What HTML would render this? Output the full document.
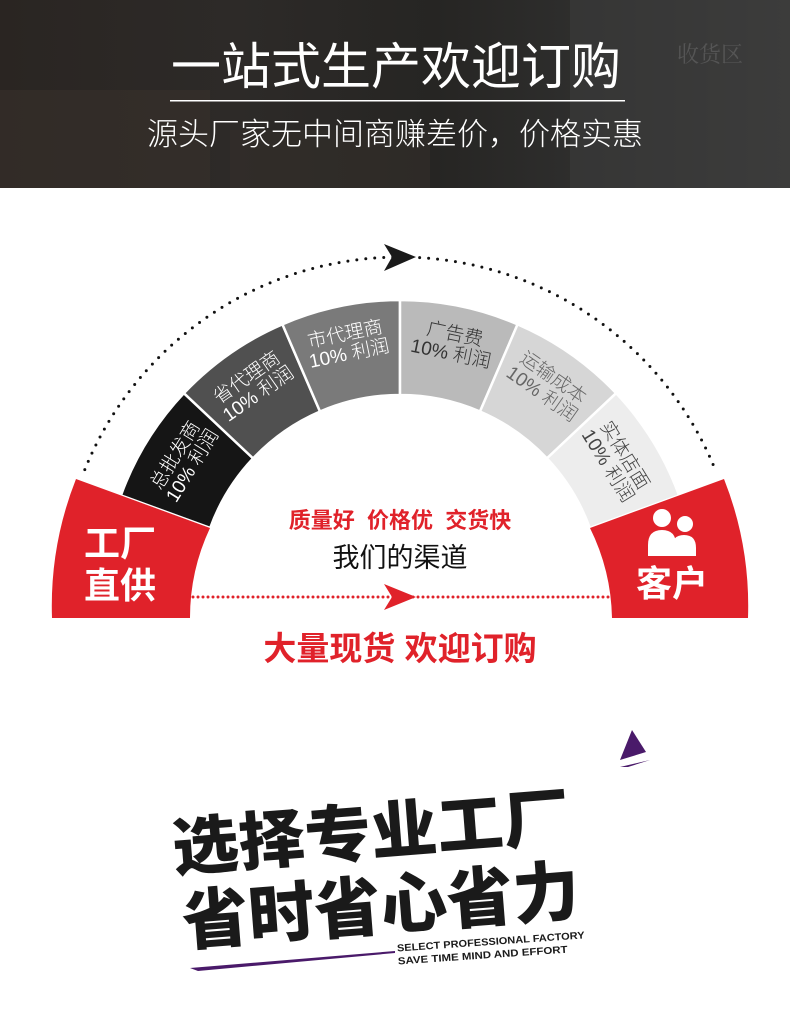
<!DOCTYPE html>
<html><head><meta charset="utf-8"><style>
html,body{margin:0;padding:0;background:#fff;}
body{width:790px;height:1016px;overflow:hidden;position:relative;font-family:"Liberation Sans","Noto Sans CJK SC",sans-serif;}
</style></head><body>
<svg width="790" height="1016" viewBox="0 0 790 1016" xmlns="http://www.w3.org/2000/svg" style="position:absolute;left:0;top:0">
<defs>
<linearGradient id="hdr" x1="0" y1="0" x2="1" y2="0">
<stop offset="0" stop-color="#2a2522"/><stop offset="0.3" stop-color="#2d2a28"/><stop offset="0.55" stop-color="#262523"/><stop offset="0.75" stop-color="#2f2f2e"/><stop offset="1" stop-color="#3a3a39"/>
</linearGradient>
</defs>
<rect x="0" y="0" width="790" height="188" fill="url(#hdr)"/>
<rect x="0" y="90" width="210" height="98" fill="#3a322c" opacity="0.5"/>
<rect x="230" y="130" width="200" height="58" fill="#332e2a" opacity="0.6"/>
<rect x="570" y="0" width="220" height="188" fill="#3e3e3d" opacity="0.5"/>
<text x="710" y="62" font-family="Noto Serif CJK SC,serif" font-size="22" fill="#555" text-anchor="middle">收货区</text>
<text x="396" y="84" font-size="50" fill="#fff" text-anchor="middle" font-family="Liberation Sans,Noto Sans CJK SC,sans-serif">一站式生产欢迎订购</text>
<rect x="170" y="100" width="455" height="1.5" fill="#fff"/>
<text x="395" y="145" font-size="31" fill="#fff" text-anchor="middle" font-family="Liberation Sans,Noto Sans CJK SC,sans-serif" font-weight="300">源头厂家无中间商赚差价，价格实惠</text>

<path d="M84.8,469.6 A340 340 0 0 1 715.2,469.6" fill="none" stroke="#111" stroke-width="3" stroke-linecap="round" stroke-dasharray="0 9"/>
<polygon points="384,244 416,257 384,271 392,257" fill="#1a1a1a"/>

<g stroke="#fff" stroke-width="2.5">
<path d="M120.9,495.4 A297 297 0 0 1 183.9,393.2 L253.1,458.4 A202 202 0 0 0 210.2,527.9 Z" fill="#151515"/>
<path d="M183.9,393.2 A297 297 0 0 1 282.4,324.3 L320,411.5 A202 202 0 0 0 253.1,458.4 Z" fill="#505050"/>
<path d="M282.4,324.3 A297 297 0 0 1 400,300 L400,395 A202 202 0 0 0 320,411.5 Z" fill="#7a7a7a"/>
<path d="M400,300 A297 297 0 0 1 517.6,324.3 L480,411.5 A202 202 0 0 0 400,395 Z" fill="#bababa"/>
<path d="M517.6,324.3 A297 297 0 0 1 616.1,393.2 L546.9,458.4 A202 202 0 0 0 480,411.5 Z" fill="#d6d6d6"/>
<path d="M616.1,393.2 A297 297 0 0 1 679.1,495.4 L589.8,527.9 A202 202 0 0 0 546.9,458.4 Z" fill="#ededed"/>
</g>
<g font-size="19" text-anchor="middle" font-family="Liberation Sans,Noto Sans CJK SC,sans-serif" font-weight="300">
<g transform="translate(183,460) rotate(-58.3)" fill="#fff"><text y="-3">总批发商</text><text y="17">10% 利润</text></g>
<g transform="translate(252,385) rotate(-35)" fill="#fff"><text y="-3">省代理商</text><text y="17">10% 利润</text></g>
<g transform="translate(347,343) rotate(-11.7)" fill="#fff"><text y="-3">市代理商</text><text y="17">10% 利润</text></g>
<g transform="translate(453,343) rotate(11.7)" fill="#333"><text y="-3">广告费</text><text y="17">10% 利润</text></g>
<g transform="translate(548,385) rotate(35)" fill="#666"><text y="-3">运输成本</text><text y="17">10% 利润</text></g>
<g transform="translate(617,460) rotate(58.3)" fill="#444"><text y="-3">实体店面</text><text y="17">10% 利润</text></g>
</g>

<path d="M76,479 A346 346 0 0 0 52,618 L190,618 A211 211 0 0 1 210,528 Z" fill="#e0222a"/>
<path d="M590,528 L724,479 A346 346 0 0 1 748,618 L612,618 A212 212 0 0 0 590,528 Z" fill="#e0222a"/>
<g font-family="Liberation Sans,Noto Sans CJK SC,sans-serif" font-weight="bold" fill="#fff" font-size="36">
<text x="84" y="556">工厂</text>
<text x="84" y="598">直供</text>
<text x="672" y="596" text-anchor="middle">客户</text>
</g>
<g fill="#fff">
<circle cx="662" cy="518" r="9"/><circle cx="685" cy="524" r="8"/>
<path d="M648,556 L648,545 Q648,530 662,530 Q676,530 676,545 L676,556 Z"/>
<path d="M672,556 L672,548 Q672,535 684,535 Q696,535 696,548 L696,556 Z"/>
</g>

<path d="M193,597 L610,597" stroke="#e0222a" stroke-width="3" stroke-linecap="round" stroke-dasharray="0 5"/>
<polygon points="384,584 416,597 384,610 392,597" fill="#e0222a"/>
<text x="400" y="528" font-size="22" font-weight="bold" fill="#e0222a" text-anchor="middle" font-family="Liberation Sans,Noto Sans CJK SC,sans-serif" xml:space="preserve">质量好  价格优  交货快</text>
<text x="400" y="567" font-size="27" fill="#111" text-anchor="middle" font-family="Liberation Sans,Noto Sans CJK SC,sans-serif">我们的渠道</text>
<text x="400" y="660" font-size="33" font-weight="bold" fill="#e0222a" text-anchor="middle" font-family="Liberation Sans,Noto Sans CJK SC,sans-serif">大量现货 欢迎订购</text>

<polygon points="632,730 646,752 620,760" fill="#4a1a6a"/>
<polygon points="620,767 650,760 628,767" fill="#4a1a6a"/>
<polygon points="190,968 395,951 395,953 198,971" fill="#4a1a6a"/>
<g transform="rotate(-4.5 370 860)" font-family="Liberation Sans,Noto Sans CJK SC,sans-serif" font-weight="900" fill="#1a1a1a">
<text x="174" y="855" font-size="63" textLength="398" lengthAdjust="spacingAndGlyphs">选择专业工厂</text>
<text x="178" y="930" font-size="66" textLength="398" lengthAdjust="spacingAndGlyphs">省时省心省力</text>
</g>
<g transform="rotate(-4 490 945)" font-family="Liberation Sans,sans-serif" font-weight="bold" fill="#1a1a1a" font-size="10">
<text x="397" y="945" textLength="188" lengthAdjust="spacingAndGlyphs">SELECT PROFESSIONAL FACTORY</text>
<text x="397" y="958" textLength="170" lengthAdjust="spacingAndGlyphs">SAVE TIME MIND AND EFFORT</text>
</g>
</svg>
</body></html>
